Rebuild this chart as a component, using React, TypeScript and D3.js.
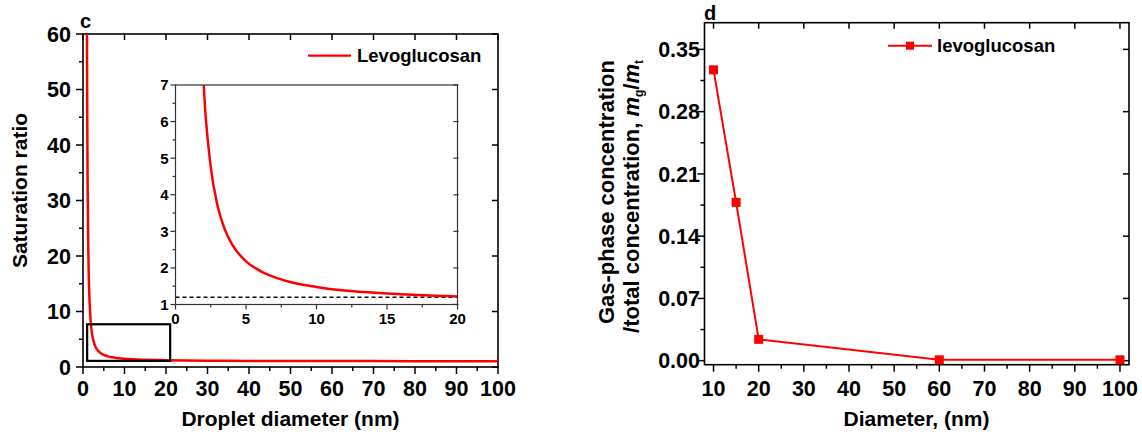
import React from "react";
import * as d3 from "d3";

// Panel c: saturation ratio over droplet diameter (nm)
const satDiameter = [0.95, 1.0, 1.1, 1.2, 1.3, 1.4, 1.5, 1.75, 2, 2.5, 3, 3.5, 4, 5, 6, 7, 8, 10, 12, 15, 20, 30, 40, 50, 60, 80, 100];
const satRatio = [60, 49, 34.6, 25.8, 20.1, 16.2, 13.5, 9.3, 7.0, 4.76, 3.67, 3.05, 2.65, 2.18, 1.92, 1.75, 1.63, 1.48, 1.38, 1.3, 1.22, 1.14, 1.1, 1.08, 1.07, 1.05, 1.04];
const satReference = 1.2;
const zoomBoxX = [1, 21];
const zoomBoxY = [1.1, 7.7];
const cXTicks = [0, 10, 20, 30, 40, 50, 60, 70, 80, 90, 100];
const cYTicks = [0, 10, 20, 30, 40, 50, 60];
const insetXTicks = [0, 5, 10, 15, 20];
const insetYTicks = [1, 2, 3, 4, 5, 6, 7];

// Panel d: gas-phase fraction over diameter
const fracDiameter = [10, 15, 20, 60, 100];
const fracValue = [0.327, 0.178, 0.024, 0.001, 0.001];
const dXTicks = [10, 20, 30, 40, 50, 60, 70, 80, 90, 100];
const dYTicks = [0.0, 0.07, 0.14, 0.21, 0.28, 0.35];

const FONT = "'Liberation Sans', Arial, Helvetica, sans-serif";
const RED = "#ff0000";

export default function App() {
  // ---- panel c scales
  const cx = d3.scaleLinear().domain([0, 100]).range([83, 498]);
  const cy = d3.scaleLinear().domain([0, 60]).range([367, 34]);
  const ix = d3.scaleLinear().domain([0, 20]).range([175.5, 457.5]);
  const iy = d3.scaleLinear().domain([1, 7]).range([304.5, 85]);

  // ---- panel d scales
  const dx = d3.scaleLinear().domain([8, 102]).range([704.5, 1129]);
  const dy = d3.scaleLinear().domain([-0.0045, 0.38]).range([364.7, 22.7]);

  const satPts: [number, number][] = satDiameter.map((d, i) => [d, satRatio[i]]);
  const mainLine = d3.line<[number, number]>().x((p) => cx(p[0])).y((p) => cy(p[1])).curve(d3.curveMonotoneX);
  const insetLine = d3.line<[number, number]>().x((p) => ix(p[0])).y((p) => iy(p[1])).curve(d3.curveMonotoneX);
  const insetPts = satPts.filter((p) => p[0] <= 20);
  const fracPts: [number, number][] = fracDiameter.map((d, i) => [d, fracValue[i]]);
  const fracLine = d3.line<[number, number]>().x((p) => dx(p[0])).y((p) => dy(p[1]));

  const cXMinor = d3.range(5, 100, 10);
  const cYMinor = d3.range(5, 60, 10);
  const iXMinor = d3.range(2.5, 20, 5);
  const iYMinor = d3.range(1.5, 7, 1);
  const dXMinor = d3.range(15, 100, 10);
  const dYMinor = d3.range(0.035, 0.38, 0.07);

  const [cx0, cx1] = cx.range();
  const [cy0, cy1] = cy.range();
  const [ix0, ix1] = ix.range();
  const [iy0, iy1] = iy.range();
  const [dx0, dx1] = dx.range();
  const [dy0, dy1] = dy.range();

  const tickFont = { fontFamily: FONT, fontWeight: 700, fontSize: 21.5, fill: "#000" } as const;
  const insetFont = { fontFamily: FONT, fontWeight: 700, fontSize: 15, fill: "#000" } as const;
  const titleFont = { fontFamily: FONT, fontWeight: 700, fontSize: 21, fill: "#000" } as const;

  return (
    <svg width={1142} height={439} style={{ position: "absolute", left: 0, top: 0, background: "#fff" }}>
      <defs>
        <clipPath id="clip-c">
          <rect x={cx0} y={cy1} width={cx1 - cx0} height={cy0 - cy1} />
        </clipPath>
        <clipPath id="clip-inset">
          <rect x={ix0} y={iy1} width={ix1 - ix0} height={iy0 - iy1} />
        </clipPath>
      </defs>
      <rect x={0} y={0} width={1142} height={439} fill="#fff" />

      {/* ================= panel c ================= */}
      <g>
        {cXTicks.map((t) => (
          <g key={"cxt" + t}>
            <line x1={cx(t)} x2={cx(t)} y1={cy0} y2={cy0 + 7} stroke="#000" strokeWidth={1.5} />
            <line x1={cx(t)} x2={cx(t)} y1={cy1} y2={cy1 + 6} stroke="#000" strokeWidth={1.5} />
            <text x={cx(t)} y={395.5} textAnchor="middle" {...tickFont}>{t}</text>
          </g>
        ))}
        {cXMinor.map((t) => (
          <line key={"cxm" + t} x1={cx(t)} x2={cx(t)} y1={cy0} y2={cy0 + 4} stroke="#000" strokeWidth={1.5} />
        ))}
        {cYTicks.map((t) => (
          <g key={"cyt" + t}>
            <line x1={cx0 - 7} x2={cx0} y1={cy(t)} y2={cy(t)} stroke="#000" strokeWidth={1.5} />
            <line x1={cx1 - 6} x2={cx1} y1={cy(t)} y2={cy(t)} stroke="#000" strokeWidth={1.5} />
            <text x={71} y={cy(t) + 7.7} textAnchor="end" {...tickFont}>{t}</text>
          </g>
        ))}
        {cYMinor.map((t) => (
          <line key={"cym" + t} x1={cx0 - 4} x2={cx0} y1={cy(t)} y2={cy(t)} stroke="#000" strokeWidth={1.5} />
        ))}
        <rect x={cx0} y={cy1} width={cx1 - cx0} height={cy0 - cy1} fill="none" stroke="#000" strokeWidth={1.6} />

        <path d={mainLine(satPts) ?? ""} fill="none" stroke={RED} strokeWidth={2.5} clipPath="url(#clip-c)" />

        {/* zoom box */}
        <rect
          x={cx(zoomBoxX[0])}
          y={cy(zoomBoxY[1])}
          width={cx(zoomBoxX[1]) - cx(zoomBoxX[0])}
          height={cy(zoomBoxY[0]) - cy(zoomBoxY[1])}
          fill="none"
          stroke="#000"
          strokeWidth={2.2}
        />

        {/* legend */}
        <line x1={308} x2={351} y1={55.7} y2={55.7} stroke={RED} strokeWidth={2.2} />
        <text x={357} y={62} fontFamily={FONT} fontWeight={700} fontSize={18.5} fill="#000">Levoglucosan</text>

        {/* panel letter and titles */}
        <text x={80} y={28} fontFamily={FONT} fontWeight={700} fontSize={20} fill="#000">c</text>
        <text x={290.5} y={426} textAnchor="middle" {...titleFont}>Droplet diameter (nm)</text>
        <text transform={`translate(27,190.5) rotate(-90)`} textAnchor="middle" {...titleFont}>Saturation ratio</text>

        {/* ---- inset ---- */}
        <rect x={ix0} y={iy1} width={ix1 - ix0} height={iy0 - iy1} fill="#fff" />
        {insetXTicks.map((t) => (
          <g key={"ixt" + t}>
            <line x1={ix(t)} x2={ix(t)} y1={iy0} y2={iy0 + 5} stroke="#333" strokeWidth={1.2} />
            <text x={ix(t)} y={323.5} textAnchor="middle" {...insetFont}>{t}</text>
          </g>
        ))}
        {iXMinor.map((t) => (
          <line key={"ixm" + t} x1={ix(t)} x2={ix(t)} y1={iy0} y2={iy0 + 3} stroke="#333" strokeWidth={1.2} />
        ))}
        {insetYTicks.map((t) => (
          <g key={"iyt" + t}>
            <line x1={ix0 - 5} x2={ix0} y1={iy(t)} y2={iy(t)} stroke="#333" strokeWidth={1.2} />
            <line x1={ix1 - 4} x2={ix1 + 1} y1={iy(t)} y2={iy(t)} stroke="#333" strokeWidth={1.2} />
            <text x={168.5} y={iy(t) + 5.4} textAnchor="end" {...insetFont}>{t}</text>
          </g>
        ))}
        {iYMinor.map((t) => (
          <line key={"iym" + t} x1={ix0 - 3} x2={ix0} y1={iy(t)} y2={iy(t)} stroke="#333" strokeWidth={1.2} />
        ))}
        <line
          x1={ix(0)}
          x2={ix(20)}
          y1={iy(satReference)}
          y2={iy(satReference)}
          stroke="#000"
          strokeWidth={1.4}
          strokeDasharray="4,3"
        />
        <path d={insetLine(insetPts) ?? ""} fill="none" stroke={RED} strokeWidth={2.5} clipPath="url(#clip-inset)" />
        <rect x={ix0} y={iy1} width={ix1 - ix0} height={iy0 - iy1} fill="none" stroke="#333" strokeWidth={1.2} />
      </g>

      {/* ================= panel d ================= */}
      <g>
        {dXTicks.map((t) => (
          <g key={"dxt" + t}>
            <line x1={dx(t)} x2={dx(t)} y1={dy0} y2={dy0 + 7} stroke="#000" strokeWidth={1.5} />
            <line x1={dx(t)} x2={dx(t)} y1={dy1} y2={dy1 + 6} stroke="#000" strokeWidth={1.5} />
            <text x={dx(t)} y={395.5} textAnchor="middle" {...tickFont}>{t}</text>
          </g>
        ))}
        {dXMinor.map((t) => (
          <line key={"dxm" + t} x1={dx(t)} x2={dx(t)} y1={dy0} y2={dy0 + 4} stroke="#000" strokeWidth={1.5} />
        ))}
        {dYTicks.map((t) => (
          <g key={"dyt" + t}>
            <line x1={dx0 - 7} x2={dx0} y1={dy(t)} y2={dy(t)} stroke="#000" strokeWidth={1.5} />
            <line x1={dx1 - 6} x2={dx1} y1={dy(t)} y2={dy(t)} stroke="#000" strokeWidth={1.5} />
            <text x={700} y={dy(t) + 7.7} textAnchor="end" {...tickFont}>{t.toFixed(2)}</text>
          </g>
        ))}
        {dYMinor.map((t) => (
          <line key={"dym" + t} x1={dx0 - 4} x2={dx0} y1={dy(t)} y2={dy(t)} stroke="#000" strokeWidth={1.5} />
        ))}
        <rect x={dx0} y={dy1} width={dx1 - dx0} height={dy0 - dy1} fill="none" stroke="#000" strokeWidth={1.6} />

        <path d={fracLine(fracPts) ?? ""} fill="none" stroke={RED} strokeWidth={2} />
        {fracPts.map((p, i) => (
          <rect key={"m" + i} x={dx(p[0]) - 4.5} y={dy(p[1]) - 4.5} width={9} height={9} fill={RED} />
        ))}

        {/* legend */}
        <line x1={888} x2={932} y1={45.7} y2={45.7} stroke={RED} strokeWidth={2} />
        <rect x={906} y={41.7} width={8} height={8} fill={RED} />
        <text x={937} y={52} fontFamily={FONT} fontWeight={700} fontSize={18.5} fill="#000">levoglucosan</text>

        <text x={704} y={20} fontFamily={FONT} fontWeight={700} fontSize={20} fill="#000">d</text>
        <text x={916.5} y={426} textAnchor="middle" {...titleFont}>Diameter, (nm)</text>

        <text transform={`translate(614,60) rotate(-90)`} textAnchor="end" fontFamily={FONT} fontWeight={700} fontSize={22} fill="#000">
          Gas-phase concentration
        </text>
        <text transform={`translate(639,60) rotate(-90)`} textAnchor="end" fontFamily={FONT} fontWeight={700} fontSize={22} fill="#000">
          <tspan>/total concentration, </tspan>
          <tspan fontStyle="italic">m</tspan>
          <tspan fontSize={12} dy={4}>g</tspan>
          <tspan dy={-4}>/</tspan>
          <tspan fontStyle="italic">m</tspan>
          <tspan fontSize={12} dy={4}>t</tspan>
        </text>
      </g>
    </svg>
  );
}
